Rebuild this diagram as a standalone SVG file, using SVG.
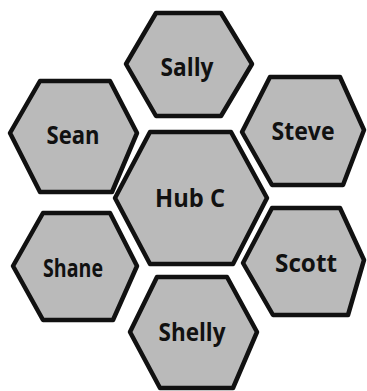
<svg xmlns="http://www.w3.org/2000/svg" width="367" height="391" viewBox="0 0 367 391">
<style>
.hex{fill:#bababa;stroke:#111;stroke-width:4.5;stroke-linejoin:round}
.lbl{font-family:"Open Sans","Liberation Sans",sans-serif;font-weight:bold;font-size:25px;fill:#111;text-anchor:middle;dominant-baseline:central}
</style>
<rect width="367" height="391" fill="#fff"/>
<g id="connectors"></g>
<g id="sally"><polygon class="hex" points="126,64 156,13 221,13 252,64 221,116 156,116"/><text class="lbl" x="187" y="66" textLength="53" lengthAdjust="spacingAndGlyphs">Sally</text></g>
<g id="sean"><polygon class="hex" points="10,133 40,81 110,81 137,133 112,192 40,192"/><text class="lbl" x="73" y="134" textLength="53" lengthAdjust="spacingAndGlyphs">Sean</text></g>
<g id="steve"><polygon class="hex" points="242,132 270,77 340,77 364,130 343,185 272,185"/><text class="lbl" x="303" y="130" textLength="63" lengthAdjust="spacingAndGlyphs">Steve</text></g>
<g id="hubc"><polygon class="hex" points="115,198 150,132 231,132 267,198 233,264 150,264"/><text class="lbl" x="190" y="197" textLength="70" lengthAdjust="spacingAndGlyphs">Hub C</text></g>
<g id="shane"><polygon class="hex" points="13,266 43,213 110,213 137,266 113,320 43,320"/><text class="lbl" x="73" y="267" textLength="60" lengthAdjust="spacingAndGlyphs">Shane</text></g>
<g id="scott"><polygon class="hex" points="243,263 272,208 340,208 364,260 348,315 273,315"/><text class="lbl" x="306" y="262" textLength="62" lengthAdjust="spacingAndGlyphs">Scott</text></g>
<g id="shelly"><polygon class="hex" points="130,332 157,277 227,277 257,332 233,388 160,388"/><text class="lbl" x="192" y="331" textLength="67" lengthAdjust="spacingAndGlyphs">Shelly</text></g>
</svg>
